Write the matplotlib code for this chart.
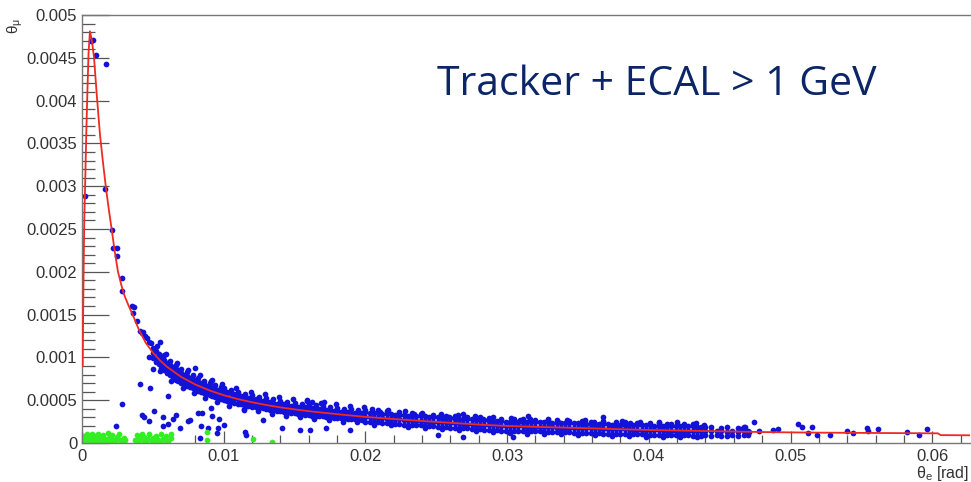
import matplotlib
matplotlib.use('Agg')
import matplotlib.pyplot as plt
from matplotlib.ticker import MultipleLocator, FuncFormatter

# Units in the data lists: x in mrad, y in micro-rad (converted to rad for plotting)
fit_x = [0.05, 0.08, 0.12, 0.16, 0.22, 0.30, 0.38, 0.46, 0.56, 0.70, 0.85, 1.05, 1.27, 1.50,
         1.69, 1.90, 2.10, 2.30, 2.54, 2.80, 3.00, 3.30, 3.60, 4.00, 4.50, 5.00, 5.50, 6.00,
         7.0, 8.0, 9.0, 10.0, 11.0, 12.0, 13.0, 14.0, 15.0, 16.0, 18.0, 20.0, 22.0, 24.0,
         26.0, 28.0, 30.0, 32.0, 34.0, 36.0, 38.0, 40.0, 42.0, 44.0, 46.0, 48.0, 50.0, 52.0,
         54.0, 56.0, 58.0, 60.4, 60.6, 62.7]
fit_y = [900, 1500, 2100, 2600, 3000, 3600, 4100, 4550, 4810, 4700, 4500, 4050, 3600, 3250,
         2980, 2720, 2490, 2250, 2000, 1830, 1720, 1600, 1490, 1330, 1170, 1056, 965, 890,
         772, 683, 614, 558, 513, 476, 444, 416, 393, 372, 337, 305, 280, 257,
         236, 215, 199, 189, 180, 171, 161, 152, 146, 140, 134, 128, 124, 121,
         119, 117, 115, 113, 92, 90]

band_x = [5.0, 5.2, 5.4, 5.6, 5.8, 6.0, 6.2, 6.4, 6.6, 6.8, 7.0, 7.2, 7.4, 7.6, 7.8, 8.0,
          8.2, 8.4, 8.6, 8.8, 9.0, 9.2, 9.4, 9.6, 9.8,
          10.0, 10.25, 10.5, 10.75, 11.0, 11.25, 11.5, 11.75, 12.0, 12.25, 12.5, 12.75,
          13.0, 13.25, 13.5, 13.75, 14.0, 14.25, 14.5, 14.75, 15.0, 15.25, 15.5, 15.75,
          16.0, 16.25, 16.5, 16.75, 17.0, 17.25, 17.5, 17.75, 18.0, 18.25, 18.5, 18.75,
          19.0, 19.25, 19.5, 19.75,
          20.0, 20.3, 20.6, 20.9, 21.2, 21.5, 21.8, 22.1, 22.4, 22.7, 23.0, 23.3, 23.6, 23.9,
          24.2, 24.5, 24.8, 25.1, 25.4, 25.7, 26.0, 26.3, 26.6, 26.9, 27.2, 27.5, 27.8, 28.1,
          28.4, 28.7, 29.0, 29.3, 29.6, 29.9, 30.2, 30.5, 30.8, 31.1, 31.4, 31.7, 32.0, 32.3,
          32.6, 32.9, 33.2, 33.5, 33.8, 34.1, 34.4, 34.7, 35.0, 35.3, 35.6, 35.9, 36.2, 36.5,
          36.8, 37.1, 37.4, 37.7, 38.0, 38.3, 38.6, 38.9, 39.2, 39.5, 39.8, 40.1, 40.4, 40.7,
          41.0, 41.3, 41.6, 41.9, 42.2, 42.5, 42.8, 43.1, 43.4, 43.7,
          44.0, 44.4, 44.8, 45.1, 45.5, 45.9, 46.3, 46.7, 47.0]
band_y = [[990, 1050, 1110], [950, 1010, 1070], [920, 975, 1040], [880, 940, 1000],
          [850, 910, 970, 1030], [820, 880, 940], [790, 850, 910, 960], [770, 830, 890],
          [740, 800, 860, 910], [730, 785, 840], [700, 760, 820, 870], [690, 745, 800],
          [670, 725, 780, 830], [650, 710, 765], [640, 690, 745, 800], [620, 675, 730],
          [610, 660, 715, 760], [600, 650, 700], [580, 630, 685, 730], [570, 620, 670],
          [560, 605, 655, 700], [550, 595, 645], [535, 585, 635, 680], [525, 575, 620],
          [515, 560, 610, 650],
          [500, 550, 600, 640], [495, 540, 590], [480, 530, 580, 620], [470, 520, 570],
          [460, 510, 555, 600], [455, 500, 545], [440, 490, 535, 575], [435, 480, 525],
          [425, 470, 515, 555], [420, 465, 510], [410, 455, 500, 540], [405, 450, 495],
          [395, 440, 485, 525], [390, 435, 475], [380, 425, 470, 510], [375, 420, 460],
          [370, 410, 455, 495], [365, 405, 450], [355, 400, 440, 480], [350, 395, 435],
          [345, 390, 430, 470], [340, 385, 425], [335, 380, 420, 460], [330, 375, 415],
          [325, 370, 410, 450], [320, 365, 405], [315, 360, 400, 440], [310, 355, 395],
          [310, 350, 390, 430], [305, 345, 385], [300, 340, 380, 420], [295, 335, 375],
          [290, 335, 370, 410], [290, 330, 365], [285, 325, 365, 400], [280, 320, 360],
          [280, 320, 355, 395], [275, 315, 350], [270, 310, 350, 385], [270, 310, 345],
          [250, 305, 360, 390], [245, 300, 355], [215, 240, 295, 350], [240, 290, 345, 380],
          [235, 290, 340], [230, 285, 340, 370], [205, 230, 280, 335], [225, 280, 330],
          [220, 275, 330, 360], [215, 270, 325], [190, 215, 270, 320], [210, 265, 320, 350],
          [205, 260, 315], [205, 255, 310, 340], [175, 200, 255, 310], [195, 250, 305],
          [195, 245, 300, 330], [190, 245, 300], [165, 185, 240, 295], [185, 240, 290, 320],
          [180, 235, 290], [180, 230, 285, 315], [150, 175, 230, 285], [170, 225, 280],
          [170, 220, 275, 305], [165, 220, 275], [140, 160, 215, 270], [160, 215, 265, 300],
          [155, 210, 265], [155, 210, 260, 290], [125, 150, 205, 260], [150, 205, 255],
          [145, 200, 255, 285], [145, 200, 250], [120, 145, 195, 250], [140, 195, 250, 280],
          [140, 195, 250], [140, 195, 245, 275], [110, 135, 190, 245], [135, 190, 245],
          [135, 190, 240, 270], [135, 185, 240], [105, 130, 185, 240], [130, 185, 240, 265],
          [130, 185, 235], [125, 180, 235, 265], [100, 125, 180, 235], [125, 180, 230],
          [125, 180, 230, 260], [120, 175, 230], [95, 120, 175, 230], [120, 175, 225, 255],
          [120, 175, 225], [115, 170, 225, 250], [90, 115, 170, 220], [115, 170, 220],
          [110, 165, 220, 250], [110, 165, 220], [85, 110, 165, 215], [105, 160, 215, 240],
          [105, 160, 215], [105, 160, 210, 240], [80, 105, 160, 210], [100, 155, 210],
          [100, 155, 205, 235], [100, 155, 205], [75, 95, 150, 205], [95, 150, 205, 230],
          [95, 150, 200], [95, 150, 200, 230], [75, 95, 150, 200], [95, 145, 200],
          [90, 145, 200, 225], [90, 145, 195], [70, 90, 145, 195], [90, 145, 195, 220],
          [90, 145, 195], [85, 140, 195, 220], [65, 85, 140, 190], [85, 140, 190],
          [90, 140, 185], [80, 135, 190], [90, 135], [85, 140, 180], [80, 130, 185],
          [90, 135], [85, 130, 175], [95, 135, 185], [90, 140]]

# ragged edge points of the band
edge_x = [5.3, 5.5, 5.9, 6.3, 6.7, 7.1, 7.5, 7.9, 8.3, 8.7, 9.1, 9.5, 9.9, 10.4, 10.9,
          11.4, 11.9, 12.4, 12.9, 13.4, 13.9, 14.4, 14.9, 15.4, 15.9, 16.4, 16.9, 17.4,
          17.9, 18.4, 18.9, 19.4, 19.9,
          20.5, 21.6, 22.8, 24.0, 25.3, 26.5, 27.7, 29.0, 30.3, 31.6, 32.9, 34.2, 35.5,
          36.8, 38.1, 39.4, 40.7, 42.0, 43.3,
          21.0, 23.4, 25.9, 28.3, 30.9, 33.6, 36.1, 38.7, 41.3, 43.9]
edge_y = [1130, 840, 1040, 720, 930, 640, 850, 580, 790, 520, 730, 480, 690, 430, 640,
          400, 600, 370, 570, 340, 540, 320, 510, 300, 490, 280, 470, 265,
          450, 250, 430, 240, 415,
          400, 385, 370, 355, 340, 325, 310, 300, 290, 285, 280, 270, 265,
          260, 255, 245, 245, 240, 235,
          360, 335, 305, 285, 265, 250, 240, 230, 225, 215]

blue_x = [0.21, 0.62, 0.78, 0.99, 1.69, 1.62, 2.12, 2.20, 2.45, 2.48, 2.80, 2.80,
          3.50, 3.70, 3.60, 3.90, 4.10, 4.20, 4.60, 4.70, 4.90, 5.50, 4.30, 4.45,
          4.70, 5.00, 4.10, 4.80, 6.10, 2.80, 5.10, 4.20, 4.40, 4.70, 5.70, 6.40,
          6.60, 2.40, 5.70, 6.10, 6.90, 7.50, 8.20, 8.50, 9.10, 9.20, 9.70, 8.40,
          8.90, 7.60, 9.60, 10.0, 8.30, 9.50, 11.6, 11.5, 12.8, 14.1, 15.4, 11.4,
          16.1, 18.9, 17.2, 25.1, 26.9, 30.4, 7.98, 9.2, 15.9, 17.1, 16.2, 26.9,
          31.5, 36.8,
          46.5, 46.8, 47.1, 47.4, 47.8, 48.8, 49.1, 50.5, 50.8, 51.2, 51.5, 51.9,
          52.8, 54.0, 54.4, 55.4, 55.5, 56.2, 58.2, 59.1, 59.6]
blue_y = [2884, 4700, 4710, 4536, 4431, 2966, 2490, 2280, 2280, 2186, 1930, 1780,
          1600, 1590, 1520, 1430, 1310, 1280, 1230, 1175, 1163, 1175, 1300, 1250,
          1000, 860, 686, 640, 547, 453, 372, 326, 302, 256, 302, 279,
          326, 198, 198, 221, 174, 256, 349, 349, 407, 314, 279, 198,
          174, 267, 174, 209, 58, 116, 93, 128, 267, 174, 151, 384,
          151, 151, 174, 93, 70, 70, 872, 733, 500, 477, 477, 340,
          320, 302,
          160, 186, 130, 244, 140, 151, 163, 221, 186, 116, 186, 93,
          93, 140, 116, 174, 140, 163, 128, 93, 163]

green_x = [0.07, 0.15, 0.20, 0.30, 0.35, 0.45, 0.55, 0.60, 0.70, 0.80, 0.90, 0.95, 1.05,
           1.15, 1.20, 1.30, 1.40, 1.50, 1.60, 1.70, 1.80, 1.90, 2.00, 2.10, 2.20, 2.35,
           2.45, 2.60, 2.70, 2.80, 2.95, 3.05,
           3.75, 3.85, 3.95, 4.05, 4.20, 4.30, 4.40, 4.55, 4.65, 4.75, 4.85, 5.00, 5.10,
           5.25, 5.35, 5.50, 5.60, 5.70, 5.85, 5.95, 6.10, 6.25, 6.30,
           8.8, 8.8, 12.1, 13.4]
green_y = [30, 80, 20, 60, 110, 30, 70, 20, 100, 50, 20, 80, 40,
           110, 20, 70, 30, 90, 50, 20, 120, 60, 30, 90, 40, 20,
           70, 100, 40, 20, 60, 30,
           40, 90, 20, 60, 110, 30, 70, 20, 50, 100, 30, 60, 20,
           80, 40, 20, 110, 50, 30, 80, 20, 60, 100,
           128, 35, 47, 12]

x_ticks_major = 0.01
y_ticks_major = 0.0005

MR = 1e-3
UR = 1e-6

bx = [x * MR for x, ys in zip(band_x, band_y) for _ in ys]
by = [y * UR for ys in band_y for y in ys]

fig = plt.figure(figsize=(9.71, 4.82), dpi=100)
ax = fig.add_axes([82 / 971, 39 / 482, (970 - 82) / 971, (443 - 15) / 482])

blue = '#1212d8'
green = '#33ee22'
ms = 17
ax.scatter(bx, by, s=ms, c=blue, linewidths=0, zorder=2)
ax.scatter([x * MR for x in edge_x], [y * UR for y in edge_y], s=ms, c=blue,
           linewidths=0, zorder=2)
ax.scatter([x * MR for x in blue_x], [y * UR for y in blue_y], s=ms, c=blue,
           linewidths=0, zorder=2)
ax.scatter([x * MR for x in green_x], [y * UR for y in green_y], s=ms, c=green,
           linewidths=0, zorder=2)
ax.plot([x * MR for x in fit_x], [y * UR for y in fit_y], color='#ee2a22', lw=1.3,
        zorder=3)

ax.set_xlim(0, (970 - 82) / 14170)
ax.set_ylim(0, 0.005)

ax.xaxis.set_major_locator(MultipleLocator(x_ticks_major))
ax.xaxis.set_minor_locator(MultipleLocator(0.002))
ax.yaxis.set_major_locator(MultipleLocator(y_ticks_major))
ax.yaxis.set_minor_locator(MultipleLocator(0.0001))
fmt = FuncFormatter(lambda v, p: '%g' % round(v, 6))
ax.xaxis.set_major_formatter(fmt)
ax.yaxis.set_major_formatter(fmt)

tick_col = '#555555'
ax.tick_params(axis='both', which='both', direction='in', color=tick_col, width=0.9,
               labelcolor='#333333', labelsize=12, top=False, right=False)
ax.tick_params(axis='y', which='major', length=19.5, pad=3.5)
ax.tick_params(axis='y', which='minor', length=9.5)
ax.tick_params(axis='x', which='major', length=8.5, pad=4.0)
ax.tick_params(axis='x', which='minor', length=5.5)
for lab in ax.get_xticklabels() + ax.get_yticklabels():
    lab.set_fontfamily('Liberation Sans')

for side in ['left', 'bottom', 'top']:
    ax.spines[side].set_color('#777777')
    ax.spines[side].set_linewidth(1.0)
ax.spines['right'].set_visible(False)

fig.text(15 / 971, 1 - 18 / 482, r'$\mathregular{\theta_{\mu}}$', rotation=90,
         ha='center', va='top', fontsize=11, color='#333333', family='Liberation Sans')
fig.text(969 / 971, 1 - 478 / 482, r'$\mathregular{\theta_{e}}$ [rad]', ha='right',
         va='baseline', fontsize=11.5, color='#333333', family='Liberation Sans')

fig.text(437 / 971, 1 - 95 / 482, 'Tracker + ECAL > 1 GeV', ha='left', va='baseline',
         fontsize=29.5, color='#0b2566', family=['Open Sans', 'DejaVu Sans'])

fig.savefig('out.png', dpi=100)
